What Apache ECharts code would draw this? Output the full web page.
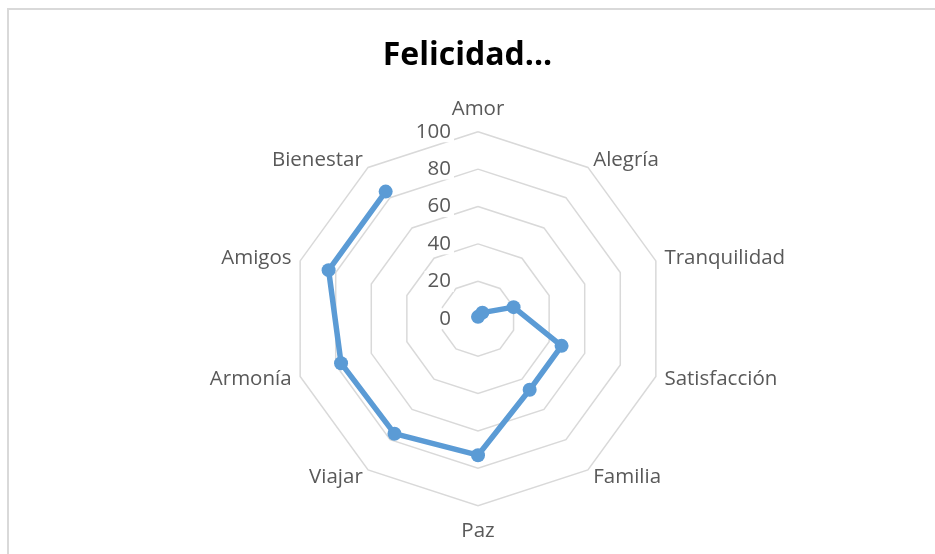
<!DOCTYPE html>
<html>
<head>
<meta charset="utf-8">
<script src="https://cdn.jsdelivr.net/npm/echarts@6/dist/echarts.min.js"></script>
<style>
html,body{margin:0;padding:0;background:#fff;}
#c{width:935px;height:554px;}
</style>
</head>
<body>
<div id="c"></div>
<script>
const title = 'Felicidad...';
const categories = ['Amor','Alegría','Tranquilidad','Satisfacción','Familia','Paz','Viajar','Armonía','Amigos','Bienestar'];
const values = [1, 4, 20, 47, 47, 73, 76, 77, 84, 84];
const tickLabels = [0, 20, 40, 60, 80, 100];

const chart = echarts.init(document.getElementById('c'));
const CENTER = [478, 318.7];
const R = 187;
const FONT = '"Open Sans", "Noto Sans", sans-serif';

// radar indicators are laid out counter-clockwise; reorder so they read clockwise
const radarOrder = [categories[0]].concat(categories.slice(1).reverse());
const topName = categories[0];
const bottomName = categories[5];

const nameStyle = { color: '#595959', fontSize: 20.5, fontFamily: FONT };

chart.setOption({
  animation: false,
  backgroundColor: '#fff',
  title: {
    text: title,
    left: 'center',
    top: 35,
    textStyle: { fontFamily: FONT, fontWeight: 'bold', fontSize: 32, color: '#000' }
  },
  graphic: [{
    type: 'rect',
    shape: { x: 8, y: 9, width: 1200, height: 1200 },
    style: { fill: 'none', stroke: '#d9d9d9', lineWidth: 2 },
    silent: true
  }],
  radar: {
    center: CENTER,
    radius: R,
    startAngle: 90,
    shape: 'polygon',
    splitNumber: 5,
    nameGap: 9,
    indicator: radarOrder.map(n => ({ name: n, min: 0, max: tickLabels[tickLabels.length - 1] })),
    axisName: Object.assign({}, nameStyle, {
      formatter: function (name) {
        if (name === topName) return '{up|' + name + '}';
        if (name === bottomName) return '{down|' + name + '}';
        return name;
      },
      rich: {
        up: Object.assign({}, nameStyle, { padding: [0, 0, 3, 0] }),
        down: Object.assign({}, nameStyle, { padding: [6, 0, 0, 0] })
      }
    }),
    axisLine: { show: false },
    axisTick: { show: false },
    axisLabel: { show: false },
    splitArea: { show: false },
    splitLine: { lineStyle: { color: '#d9d9d9', width: 1.5 } }
  },
  polar: { center: CENTER, radius: R },
  angleAxis: {
    type: 'category',
    data: categories,
    startAngle: 90,
    clockwise: true,
    boundaryGap: false,
    axisLine: { show: false },
    axisTick: { show: false },
    axisLabel: { show: false },
    splitLine: { show: false }
  },
  radiusAxis: {
    type: 'value',
    min: 0,
    max: 100,
    interval: 20,
    z: 5,
    axisLine: { show: false },
    axisTick: { show: false },
    splitLine: { show: false },
    axisLabel: {
      show: true,
      margin: 24,
      color: '#595959',
      fontSize: 20.5,
      fontFamily: FONT,
      backgroundColor: '#fff',
      padding: [0, 3]
    }
  },
  series: [{
    type: 'line',
    coordinateSystem: 'polar',
    data: values,
    symbol: 'circle',
    symbolSize: 14,
    lineStyle: { color: '#5b9bd5', width: 5.5, cap: 'round', join: 'round' },
    itemStyle: { color: '#5b9bd5' },
    z: 10
  }]
});
</script>
</body>
</html>
